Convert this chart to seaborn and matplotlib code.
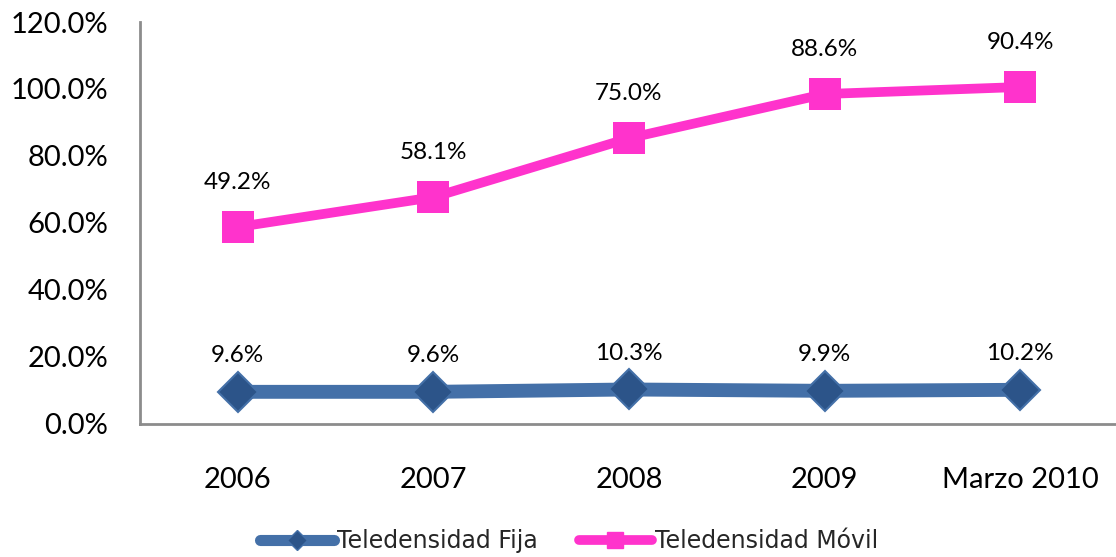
import numpy as np
import pandas as pd
import seaborn as sns
import matplotlib.pyplot as plt
from matplotlib.ticker import FuncFormatter

periodos = ['2006', '2007', '2008', '2009', 'Marzo 2010']
fija = [9.6, 9.6, 10.3, 9.9, 10.2]
movil = [49.2, 58.1, 75.0, 88.6, 90.4]
series = ['Teledensidad Fija', 'Teledensidad Móvil']

# stacked line chart: the mobile series sits on top of the fixed one
movil_apilado = list(np.add(fija, movil))

df = pd.DataFrame({
    'periodo': periodos * 2,
    'pos': list(range(len(periodos))) * 2,
    'valor': fija + movil_apilado,
    'etiqueta': fija + movil,
    'serie': [series[0]] * len(periodos) + [series[1]] * len(periodos),
})

sns.set_theme(style='white')
plt.rcParams['font.family'] = ['Lato', 'DejaVu Sans']

fig = plt.figure(figsize=(11.16, 5.57), dpi=100)
ax = fig.add_axes([0.1254, 0.2388, 0.8746, 0.7217])

colores = {series[0]: '#4470A8', series[1]: '#FF33CC'}

sns.lineplot(data=df, x='pos', y='valor', hue='serie', palette=colores,
             legend=False, ax=ax)
lineas = ax.get_lines()
lineas[0].set(linewidth=10, marker='D', markersize=20,
              markerfacecolor='#2C5489', markeredgecolor='#4470A8',
              markeredgewidth=1.5, solid_capstyle='round')
lineas[1].set(linewidth=7, marker='s', markersize=23,
              markerfacecolor='#FF33CC', markeredgecolor='#FF33CC',
              markeredgewidth=0)

for _, fila in df.iterrows():
    off = 26 if fila['serie'] == series[0] else 32
    ax.annotate(f"{fila['etiqueta']:.1f}%", (fila['pos'], fila['valor']),
                xytext=(0, off), textcoords='offset points',
                ha='center', va='center', fontsize=17.5, color='black')

ax.set_xlim(-0.5, 4.49)
ax.set_ylim(0, 120)
ax.set_yticks(np.arange(0, 121, 20))
ax.yaxis.set_major_formatter(FuncFormatter(lambda v, _: f'{v:.1f}%'))
ax.set_xticks(range(len(periodos)))
ax.set_xticklabels(periodos)
ax.tick_params(axis='y', length=0, pad=23, labelsize=21, labelcolor='black')
ax.tick_params(axis='x', length=0, pad=31, labelsize=21, labelcolor='black')
ax.set_xlabel('')
ax.set_ylabel('')

for lado in ['top', 'right']:
    ax.spines[lado].set_visible(False)
for lado in ['left', 'bottom']:
    ax.spines[lado].set_color('#8C8C8C')
    ax.spines[lado].set_linewidth(2)

h_fija = plt.Line2D([], [], color='#4470A8', linewidth=8, marker='D',
                    markersize=10, markerfacecolor='#2C5489',
                    markeredgecolor='#4470A8', solid_capstyle='round')
h_movil = plt.Line2D([], [], color='#FF33CC', linewidth=7, marker='s',
                     markersize=12, solid_capstyle='round')
fig.legend([h_fija, h_movil], series, loc='center', bbox_to_anchor=(0.51, 0.028),
           ncol=2, frameon=False, handlelength=3.1, handletextpad=0.12,
           columnspacing=1.75, prop={'family': 'DejaVu Sans', 'size': 17})

fig.savefig('out.png', dpi=100)
